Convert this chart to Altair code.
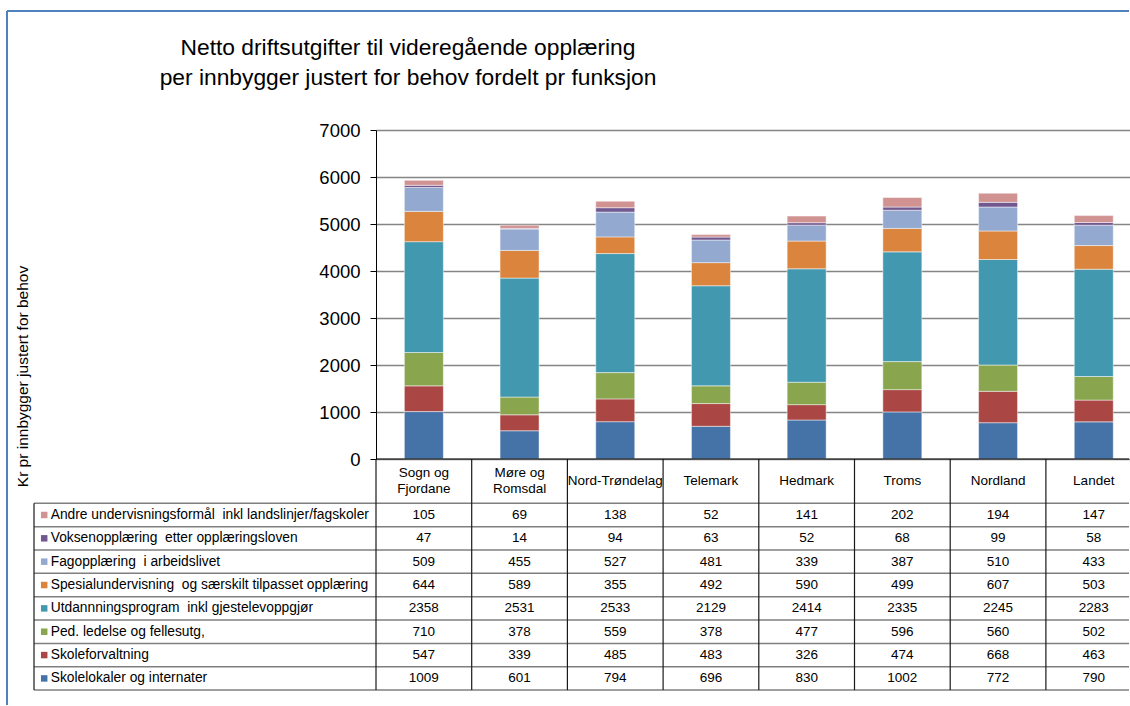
import altair as alt
import pandas as pd

# Regions (columns of the table / bars)
regions = ["Sogn og Fjordane", "Møre og Romsdal", "Nord-Trøndelag", "Telemark",
           "Hedmark", "Troms", "Nordland", "Landet"]
region_labels = ["Sogn og\nFjordane", "Møre og\nRomsdal", "Nord-Trøndelag", "Telemark",
                 "Hedmark", "Troms", "Nordland", "Landet"]

NB = "\u00a0 "  # a widened word gap that SVG will not collapse

# Functions, listed from the bottom of each stack upwards
functions = [
    "Skolelokaler og internater",
    "Skoleforvaltning",
    "Ped. ledelse og fellesutg,",
    "Utdannningsprogram" + NB + "inkl gjestelevoppgjør",
    "Spesialundervisning" + NB + "og særskilt tilpasset opplæring",
    "Fagopplæring" + NB + "i arbeidslivet",
    "Voksenopplæring" + NB + "etter opplæringsloven",
    "Andre undervisningsformål" + NB + "inkl landslinjer/fagskoler",
]
colors = ["#4572A7", "#AA4643", "#89A54E", "#4198AF",
          "#DB843D", "#93A9CF", "#71588F", "#D19392"]

skolelokaler = [1009, 601, 794, 696, 830, 1002, 772, 790]
skoleforvaltning = [547, 339, 485, 483, 326, 474, 668, 463]
ped_ledelse = [710, 378, 559, 378, 477, 596, 560, 502]
utdanningsprogram = [2358, 2531, 2533, 2129, 2414, 2335, 2245, 2283]
spesialundervisning = [644, 589, 355, 492, 590, 499, 607, 503]
fagopplaering = [509, 455, 527, 481, 339, 387, 510, 433]
voksenopplaering = [47, 14, 94, 63, 52, 68, 99, 58]
andre = [105, 69, 138, 52, 141, 202, 194, 147]

series = [skolelokaler, skoleforvaltning, ped_ledelse, utdanningsprogram,
          spesialundervisning, fagopplaering, voksenopplaering, andre]

y_ticks = [0, 1000, 2000, 3000, 4000, 5000, 6000, 7000]

# ---- layout (pixels) ----
W, H = 753, 329            # visible plot area
COL = 95.7                 # one region column (the last one runs past the edge)
ROW = 23.35                # one table row
HEAD = 44.3                # header row with region names
HEAD_ROWS = HEAD / ROW
X_END = W / COL            # right edge of the visible area, in column units
HDR_LEFT = -342 / COL      # left edge of the row-header column, in column units
KEY_X = -331.8 / COL
LABEL_X = -325.3 / COL
LINE_H = 15.5              # line height of the region names
FONT = "Liberation Sans"

# ---- long table ----
records = []
base = [0] * len(regions)
n = len(functions)
for k, (name, vals) in enumerate(zip(functions, series)):
    for i, v in enumerate(vals):
        records.append({
            "region": regions[i],
            "pos": i + 0.5,
            "function": name,
            "value": v,
            "y0": base[i],
            "y1": base[i] + v,
            "row": (n - 1 - k) + 0.5,
        })
        base[i] += v
df = pd.DataFrame(records)

fn_df = pd.DataFrame({"function": functions,
                      "row": [(n - 1 - k) + 0.5 for k in range(n)]})
# first line of each region name, placed so the text block is centred in the header row
reg_df = pd.DataFrame({
    "label": region_labels,
    "pos": [i + 0.5 for i in range(len(regions))],
    "row": [-HEAD_ROWS / 2 - (lab.count("\n") * LINE_H / 2) / ROW
            for lab in region_labels],
})

x_scale = alt.Scale(domain=[0, 8], range=[0, 8 * COL], padding=0,
                    nice=False, zero=False)
row_scale = alt.Scale(domain=[-HEAD_ROWS, 8], range=[H, H + HEAD + 8 * ROW],
                      nice=False, zero=False)
color_scale = alt.Scale(domain=functions, range=colors)

# ---- stacked bars ----
bars = alt.Chart(df).mark_bar(size=39, stroke="white", strokeWidth=0.8,
                              strokeOpacity=0.6).encode(
    x=alt.X("pos:Q", scale=x_scale, axis=None),
    y=alt.Y("y0:Q", scale=alt.Scale(domain=[0, 7000], nice=False),
            axis=alt.Axis(values=y_ticks, format="d", grid=True,
                          gridColor="#858585", gridWidth=1.6,
                          domainColor="black", domainWidth=1,
                          tickColor="black", tickSize=6, labelPadding=10,
                          labelFont=FONT, labelFontSize=18.5, labelColor="black",
                          title="Kr pr innbygger justert for behov",
                          titleFont=FONT, titleFontSize=15.5,
                          titleFontWeight="normal", titleColor="black",
                          titleAngle=270, titleX=-354, titleY=246,
                          titleAlign="center", titleBaseline="middle")),
    y2="y1:Q",
    color=alt.Color("function:N", scale=color_scale, legend=None),
)

# ---- data table ----
hlines_df = pd.DataFrame({"r": list(range(9)), "x0": [HDR_LEFT] * 9, "x1": [X_END] * 9})
hlines = alt.Chart(hlines_df).mark_rule(color="#7f7f7f", strokeWidth=1.5).encode(
    x=alt.X("x0:Q", scale=x_scale, axis=None),
    x2="x1:Q",
    y=alt.Y("r:Q", scale=row_scale, axis=None),
)

vx = [HDR_LEFT] + list(range(8))
vlines_df = pd.DataFrame({"x": vx,
                          "r0": [0] + [-HEAD_ROWS] * 8,
                          "r1": [8] * 9})
vlines = alt.Chart(vlines_df).mark_rule(color="#1a1a1a", strokeWidth=1.2).encode(
    x=alt.X("x:Q", scale=x_scale, axis=None),
    y=alt.Y("r0:Q", scale=row_scale, axis=None),
    y2="r1:Q",
)

base_df = pd.DataFrame({"x0": [0], "x1": [X_END], "r": [-HEAD_ROWS]})
baseline = alt.Chart(base_df).mark_rule(color="black", strokeWidth=1.2).encode(
    x=alt.X("x0:Q", scale=x_scale, axis=None),
    x2="x1:Q",
    y=alt.Y("r:Q", scale=row_scale, axis=None),
)

cells = alt.Chart(df).mark_text(font=FONT, fontSize=13.5, color="black",
                                align="center", baseline="middle").encode(
    x=alt.X("pos:Q", scale=x_scale, axis=None),
    y=alt.Y("row:Q", scale=row_scale, axis=None),
    text="value:Q",
)

keys = alt.Chart(fn_df).mark_square(size=42, opacity=1).encode(
    x=alt.X("kx:Q", scale=x_scale, axis=None),
    y=alt.Y("row:Q", scale=row_scale, axis=None),
    color=alt.Color("function:N", scale=color_scale, legend=None),
).transform_calculate(kx=str(KEY_X))

row_labels = alt.Chart(fn_df).mark_text(font=FONT, fontSize=13.8, color="black",
                                        align="left", baseline="middle").encode(
    x=alt.X("lx:Q", scale=x_scale, axis=None),
    y=alt.Y("row:Q", scale=row_scale, axis=None),
    text="function:N",
).transform_calculate(lx=str(LABEL_X))

col_labels = alt.Chart(reg_df).mark_text(font=FONT, fontSize=13.5, color="black",
                                         align="center", baseline="middle",
                                         lineBreak="\n", lineHeight=LINE_H).encode(
    x=alt.X("pos:Q", scale=x_scale, axis=None),
    y=alt.Y("row:Q", scale=row_scale, axis=None),
    text="label:N",
)

table = alt.layer(hlines, vlines, baseline, cells, keys, row_labels, col_labels)

# ---- frame and heading ----
one = alt.Data(values=[{}])
frame_left = alt.Chart(one).mark_rule(color="#4F81BD", strokeWidth=2).encode(
    x=alt.value(-369), y=alt.value(-119), y2=alt.value(575))
frame_top = alt.Chart(one).mark_rule(color="#4F81BD", strokeWidth=2).encode(
    x=alt.value(-369), x2=alt.value(W), y=alt.value(-119))
heading = alt.Chart(one).mark_text(
    text="Netto driftsutgifter til videregående opplæring\n"
         "per innbygger justert for behov fordelt pr funksjon",
    lineBreak="\n", lineHeight=30, font=FONT, fontSize=22.8, color="black",
    align="center", baseline="middle",
).encode(x=alt.value(32), y=alt.value(-82))

chart = alt.layer(bars, table, frame_left, frame_top, heading).resolve_scale(
    y="independent"
).properties(
    width=W, height=H,
    padding={"left": 6, "top": 10, "right": 0, "bottom": 0},
    background="white",
).configure_view(stroke=None)

chart.save("out.html", embed_options={"renderer": "svg", "actions": False})
